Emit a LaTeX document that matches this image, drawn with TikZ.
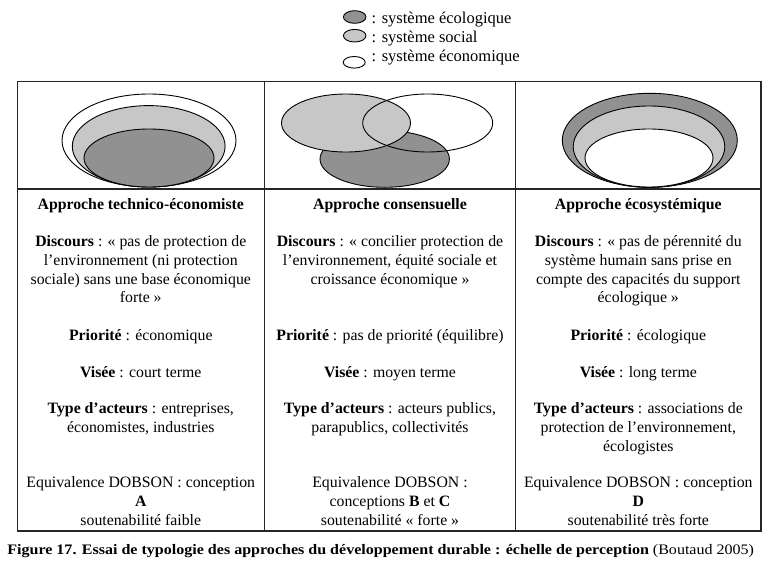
\documentclass[tikz,border=0pt]{standalone}
\usepackage{fontspec}
\setmainfont{Liberation Serif}
\usepackage{graphicx}
\definecolor{ecolc}{gray}{0.57}
\definecolor{socc}{gray}{0.78}
\definecolor{econc}{gray}{1}
\begin{document}
\begin{tikzpicture}[x=1pt,y=-1pt,
  tline/.style={line width=1.4pt, draw=black!85},
  ell/.style={line width=0.9pt, draw=black},
  txt/.style={anchor=base, align=center, inner sep=0pt, font=\fontsize{15.8pt}{18.9pt}\selectfont},
  leg/.style={anchor=base west, inner sep=0pt, font=\fontsize{16.5pt}{19pt}\selectfont}]
\useasboundingbox (0,0) rectangle (777,578);
\fill[white] (0,0) rectangle (777,578);

% legend
\path[ell, fill=ecolc] (354.7,17) ellipse [x radius=11.3pt, y radius=6.3pt];
\path[ell, fill=socc] (354.7,35.7) ellipse [x radius=11.3pt, y radius=6.3pt];
\path[ell, fill=econc] (354.2,62.3) ellipse [x radius=11pt, y radius=5.8pt];
\node[leg] (l1) at (371.5,24) {: système écologique};
\node[leg] (l2) at (371.5,42.3) {: système social};
\node[leg] (l3) at (371.5,61.7) {: système économique};

% table
\draw[tline] (17.3,81.7) rectangle (761,531);
\draw[tline] (17.3,189) -- (761,189);
\draw[tline] (264.3,81.7) -- (264.3,531);
\draw[tline] (515.7,81.7) -- (515.7,531);

% column 1: technico-economiste
\path[ell, fill=econc] (149,140.5) ellipse [x radius=87pt, y radius=46.5pt];
\path[ell, fill=socc] (148.7,146.3) ellipse [x radius=76.4pt, y radius=40.7pt];
\path[ell, fill=ecolc] (149,158) ellipse [x radius=65pt, y radius=29pt];

% column 2: consensuelle
\path[fill=econc] (427.7,123) ellipse [x radius=65pt, y radius=29pt];
\path[ell, fill=ecolc] (384.7,159) ellipse [x radius=64.7pt, y radius=28.3pt];
\path[ell, fill=socc] (346,123) ellipse [x radius=64.5pt, y radius=29pt];
\path[ell] (427.7,123) ellipse [x radius=65pt, y radius=29pt];

% column 3: ecosystemique
\path[ell, fill=ecolc] (649.8,140.3) ellipse [x radius=87.5pt, y radius=47pt];
\path[ell, fill=socc] (649,146.7) ellipse [x radius=75.8pt, y radius=40.7pt];
\path[ell, fill=econc] (649,158) ellipse [x radius=64pt, y radius=29pt];

% column 1 texts (base = baseline of last line)
\node[txt] (a1) at (140.8,209) {\textbf{Approche technico-économiste}};
\node[txt] (d1) at (140.8,302.9) {\textbf{Discours} : « pas de protection de\\l’environnement (ni protection\\sociale) sans une base économique\\forte »};
\node[txt] (p1) at (140.8,340) {\textbf{Priorité} : économique};
\node[txt] (v1) at (140.8,377) {\textbf{Visée} : court terme};
\node[txt] (y1) at (140.8,432.4) {\textbf{Type d’acteurs} : entreprises,\\économistes, industries};
\node[txt] (e1) at (140.8,525.3) {Equivalence DOBSON : conception\\\textbf{A}\\soutenabilité faible};

% column 2 texts
\node[txt] (a2) at (390,209) {\textbf{Approche consensuelle}};
\node[txt] (d2) at (390,284) {\textbf{Discours} : « concilier protection de\\l’environnement, équité sociale et\\croissance économique »};
\node[txt] (p2) at (390,340) {\textbf{Priorité} : pas de priorité (équilibre)};
\node[txt] (v2) at (390,377) {\textbf{Visée} : moyen terme};
\node[txt] (y2) at (390,432.4) {\textbf{Type d’acteurs} : acteurs publics,\\parapublics, collectivités};
\node[txt] (e2) at (390,525.3) {Equivalence DOBSON :\\conceptions \textbf{B} et \textbf{C}\\soutenabilité « forte »};

% column 3 texts
\node[txt] (a3) at (638.3,209) {\textbf{Approche écosystémique}};
\node[txt] (d3) at (638.3,302.9) {\textbf{Discours} : « pas de pérennité du\\système humain sans prise en\\compte des capacités du support\\écologique »};
\node[txt] (p3) at (638.3,340) {\textbf{Priorité} : écologique};
\node[txt] (v3) at (638.3,377) {\textbf{Visée} : long terme};
\node[txt] (y3) at (638.3,451.3) {\textbf{Type d’acteurs} : associations de\\protection de l’environnement,\\écologistes};
\node[txt] (e3) at (638.3,525.3) {Equivalence DOBSON : conception\\\textbf{D}\\soutenabilité très forte};

% caption
\node[anchor=base, inner sep=0pt, font=\fontsize{14.5pt}{17pt}\selectfont] (cap) at (380.7,554)
  {\resizebox{746.7pt}{\height}{\textbf{Figure 17. Essai de typologie des approches du développement durable : échelle de perception} (Boutaud 2005)}};
\end{tikzpicture}
\end{document}
